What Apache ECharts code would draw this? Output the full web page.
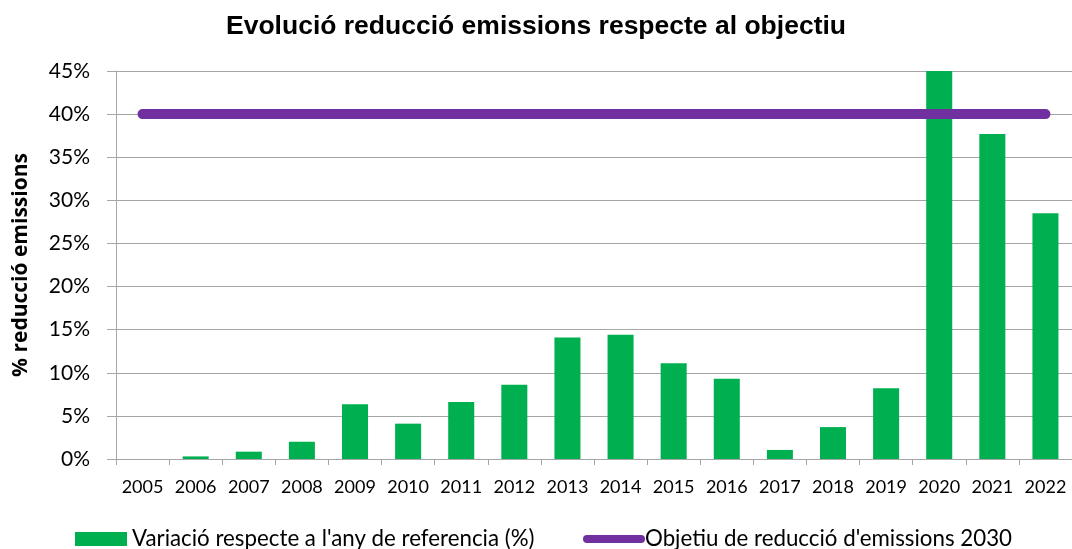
<!DOCTYPE html>
<html>
<head>
<meta charset="utf-8">
<script src="https://cdn.jsdelivr.net/npm/echarts@6/dist/echarts.min.js"></script>
<style>html,body{margin:0;padding:0;background:#fff}#c{width:1072px;height:549px}</style>
</head>
<body>
<div id="c"></div>
<script>
const titleText = "Evolució reducció emissions respecte al objectiu";
const yAxisName = "% reducció emissions";
const years = ["2005","2006","2007","2008","2009","2010","2011","2012","2013","2014","2015","2016","2017","2018","2019","2020","2021","2022"];
const variacio = [0, 0.3, 0.85, 2.0, 6.35, 4.1, 6.6, 8.6, 14.1, 14.4, 11.1, 9.3, 1.05, 3.7, 8.2, 45, 37.7, 28.5];
const objectiu = [40,40,40,40,40,40,40,40,40,40,40,40,40,40,40,40,40,40];
const seriesNames = ["Variació respecte a l'any de referencia (%)", "Objetiu de reducció d'emissions 2030"];
const yTicks = {min: 0, max: 45, interval: 5};

const chart = echarts.init(document.getElementById('c'));
const legendFont = {fontFamily: 'Lato, sans-serif', fontSize: 22.3, lineHeight: 22, color: '#000'};
chart.setOption({
  animation: false,
  backgroundColor: '#fff',
  title: {
    text: titleText, left: 'center', top: 8,
    textStyle: {fontFamily: 'Liberation Sans, Arial', fontWeight: 'bold', fontSize: 26.5, color: '#000'}
  },
  legend: [{
    data: [{name: seriesNames[0], icon: 'rect'}],
    left: 75, top: 528, itemWidth: 52, itemHeight: 14, padding: 0,
    textStyle: legendFont
  }, {
    data: [{name: seriesNames[1], icon: 'path://M4,0 H58 A4,4 0 0 1 58,8 H4 A4,4 0 0 1 4,0 Z'}],
    left: 583, top: 528, itemWidth: 62, itemHeight: 8, padding: 0,
    textStyle: Object.assign({}, legendFont, {padding: [0, 0, 0, -5]})
  }],
  grid: {left: 116, right: -3.4, top: 71, bottom: 90, containLabel: false},
  xAxis: {
    type: 'category', data: years, boundaryGap: true,
    axisLine: {lineStyle: {color: '#a6a6a6', width: 1}},
    axisTick: {show: true, length: 6, lineStyle: {color: '#a6a6a6'}},
    axisLabel: {margin: 19, fontFamily: 'Lato, sans-serif', fontSize: 18, color: '#000', interval: 0}
  },
  yAxis: {
    type: 'value', min: yTicks.min, max: yTicks.max, interval: yTicks.interval,
    name: yAxisName, nameLocation: 'middle', nameGap: 84, nameRotate: 90,
    nameTextStyle: {fontFamily: 'Open Sans, sans-serif', fontWeight: 'bold', fontSize: 21, color: '#000'},
    axisLine: {show: true, lineStyle: {color: '#a6a6a6', width: 1}},
    axisTick: {show: true, length: 9, lineStyle: {color: '#a6a6a6'}},
    splitLine: {lineStyle: {color: '#a6a6a6', width: 1}},
    axisLabel: {margin: 26, formatter: '{value}%', fontFamily: 'Lato, sans-serif', fontSize: 21, color: '#000'}
  },
  series: [{
    name: seriesNames[0], type: 'bar', data: variacio, barWidth: '49%',
    itemStyle: {color: '#00b050'}, clip: true
  }, {
    name: seriesNames[1], type: 'line', data: objectiu, symbol: 'none',
    lineStyle: {color: '#7030a0', width: 10, cap: 'round'}, itemStyle: {color: '#7030a0'}, z: 3
  }]
});
</script>
</body>
</html>
